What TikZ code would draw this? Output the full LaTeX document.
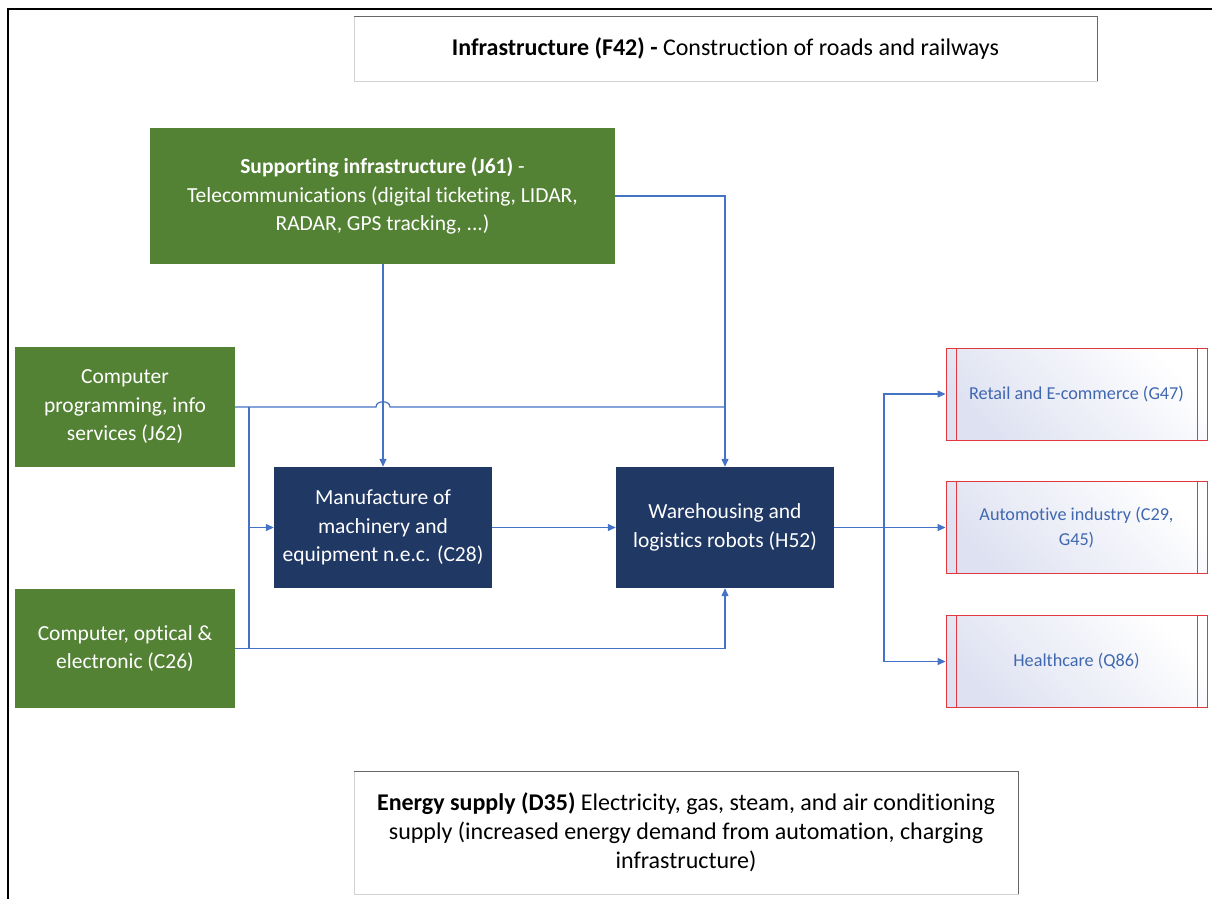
\documentclass[tikz,border=0pt]{standalone}
\usepackage{fontspec}
\setmainfont{Carlito}[Ligatures=NoCommon]
\usepackage{tikz}
\usetikzlibrary{arrows.meta}
\definecolor{grn}{HTML}{548235}
\definecolor{navy}{HTML}{203864}
\definecolor{lnk}{HTML}{4472C4}
\definecolor{rbox}{HTML}{E0383E}
\definecolor{rtxt}{HTML}{4068B0}
\definecolor{lav}{HTML}{DEE1F1}
\begin{document}
\begin{tikzpicture}[x=1pt, y=-1pt, every node/.style={font=\fontsize{21.5}{28.5}\selectfont, align=center, inner sep=0pt},
	>={Triangle[length=8pt, width=7pt]},
	gbox/.style={fill=grn, text=white},
	nbox/.style={fill=navy, text=white},
	wbox/.style={draw=black!18, fill=white, font=\fontsize{24}{29}\selectfont},
	rsect/.style={draw=rbox, line width=0.9pt, text=rtxt, top color=lav, bottom color=white, shading angle=135,
		minimum width=261pt, minimum height=92pt, font=\fontsize{18.2}{25}\selectfont,
		path picture={\draw[rbox, line width=0.9pt] ([xshift=10pt]path picture bounding box.north west) -- ([xshift=10pt]path picture bounding box.south west);
			\draw[rbox, line width=0.9pt] ([xshift=-10pt]path picture bounding box.north east) -- ([xshift=-10pt]path picture bounding box.south east);}},
	lk/.style={draw=lnk, line width=1.2pt}]
	\useasboundingbox (0,0) rectangle (1212,898);
	\draw[line width=2.6pt] (8,910) -- (8,9) -- (1220,9);

	\node[wbox, minimum width=743pt, minimum height=65pt] (f42) at (725.5,48.5) {\textbf{Infrastructure (F42) -} Construction of roads and railways};
	\node[gbox, minimum width=465pt, minimum height=136pt] (j61) at (382.5,196) {\textbf{Supporting infrastructure (J61)} -\\ Telecommunications (digital ticketing, LIDAR,\\ RADAR, GPS tracking, ...)};
	\node[gbox, minimum width=220pt, minimum height=120pt] (j62) at (125,407) {Computer\\ programming, info\\ services (J62)};
	\node[gbox, minimum width=220pt, minimum height=119pt] (c26) at (125,648.5) {Computer, optical \&\\ electronic (C26)};
	\node[nbox, minimum width=218pt, minimum height=121pt] (c28) at (383,527.5) {Manufacture of\\ machinery and\\ equipment n.e.c. (C28)};
	\node[nbox, minimum width=218pt, minimum height=121pt] (h52) at (725,527.5) {Warehousing and\\ logistics robots (H52)};
	\node[rsect] (g47) at (1076.5,394) {Retail and E-commerce (G47)};
	\node[rsect] (c29) at (1076.5,527.5) {Automotive industry (C29,\\ G45)};
	\node[rsect] (q86) at (1076.5,661.5) {Healthcare (Q86)};
	\node[wbox, minimum width=664pt, minimum height=123pt] (d35) at (686,832.5) {\textbf{Energy supply (D35)} Electricity, gas, steam, and air conditioning\\ supply (increased energy demand from automation, charging\\ infrastructure)};
	\draw[black!60] (f42.north west) -- (f42.north east) -- (f42.south east);
	\draw[black!60] (d35.north west) -- (d35.north east) -- (d35.south east);

	\coordinate (bt) at (249,407);
	\coordinate (bb) at (249,648.5);
	\coordinate (fan) at (884,527.5);
	\draw[lk, ->] (j61.south -| c28.north) -- (c28.north);
	\draw[lk, ->] (j61.east) -| (h52.north);
	\draw[lk] (j62.east) -- (376,407) .. controls (376,400) and (390,400) .. (390,407) -- (h52.north |- j62.east);
	\draw[lk] (bt) -- (bb);
	\draw[lk, ->] (bt |- c28.west) -- (c28.west);
	\draw[lk, ->] (c26.east) -| (h52.south);
	\draw[lk, ->] (c28) -- (h52);
	\draw[lk, ->] (h52.east) -- (c29.west);
	\draw[lk, ->] (fan) |- (g47.west);
	\draw[lk, ->] (fan) |- (q86.west);
\end{tikzpicture}
\end{document}
